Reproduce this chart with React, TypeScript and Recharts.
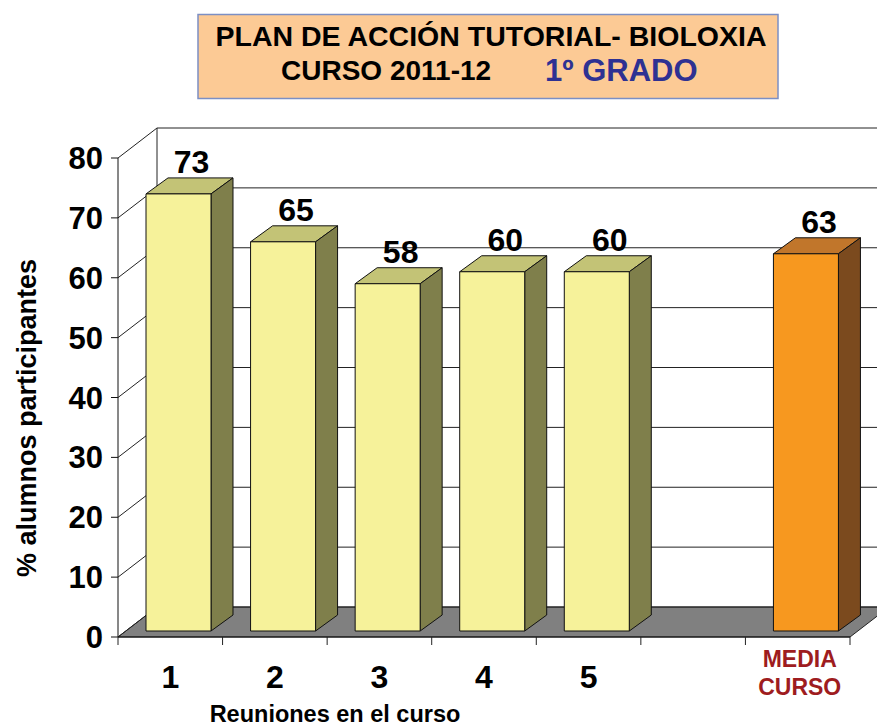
import React from "react";
import { BarChart, Bar, XAxis, YAxis, CartesianGrid, LabelList } from "recharts";

const CATEGORIES = ["1", "2", "3", "4", "5", "", "MEDIA CURSO"];
const PARTICIPATION: (number | null)[] = [73, 65, 58, 60, 60, null, 63];
const Y_TICKS = [0, 10, 20, 30, 40, 50, 60, 70, 80];

const W = 877;
const H = 727;
const PLOT_LEFT = 118;
const PLOT_RIGHT = 850;
const PLOT_TOP = 158;
const PLOT_BOTTOM = 637;
const X_AXIS_H = 30;
const BAND = (PLOT_RIGHT - PLOT_LEFT) / CATEGORIES.length;

// 3d depth of the walls, and of the bars
const WX = 39;
const WY = 30;
const BX = 8;
const BY = 6;
const DX = 22;
const DY = 16;

const FONT = "'Liberation Sans', Arial, sans-serif";

const YELLOW = { front: "#F6F29A", top: "#C3C376", side: "#7F7F4B" };
const ORANGE = { front: "#F7981F", top: "#C1762B", side: "#7B4A1E" };

const data = CATEGORIES.map((name, i) => ({
  name,
  value: PARTICIPATION[i],
  media: name === "MEDIA CURSO",
}));

const wallLine = (p: any) => {
  const { x1, x2, y1 } = p;
  const isFloor = Math.abs(y1 - PLOT_BOTTOM) < 1;
  const isTop = Math.abs(y1 - PLOT_TOP) < 1;
  return (
    <g key={`wall-${y1}`}>
      {isFloor && (
        <polygon
          points={`${x1},${y1} ${x1 + WX},${y1 - WY} ${x2 + WX},${y1 - WY} ${x2},${y1}`}
          fill="#808080"
          stroke="#222"
          strokeWidth={1}
        />
      )}
      <line x1={x1} y1={y1} x2={x1 + WX} y2={y1 - WY} stroke="#222" strokeWidth={1} />
      <line x1={x1 + WX} y1={y1 - WY} x2={x2 + WX} y2={y1 - WY} stroke="#222" strokeWidth={1} />
      {isTop && (
        <line
          x1={x1 + WX}
          y1={y1 - WY}
          x2={x1 + WX}
          y2={PLOT_BOTTOM - WY}
          stroke="#222"
          strokeWidth={1}
        />
      )}
    </g>
  );
};

const Bar3D = (props: any) => {
  const { x, y, width, height, payload } = props;
  if (payload == null || payload.value == null) return null;
  const c = payload.media ? ORANGE : YELLOW;
  const fx = x + BX;
  const fy = y - BY;
  const w = width;
  const h = height;
  return (
    <g stroke="#111" strokeWidth={1} strokeLinejoin="round">
      <polygon
        points={`${fx},${fy} ${fx + DX},${fy - DY} ${fx + w + DX},${fy - DY} ${fx + w},${fy}`}
        fill={c.top}
      />
      <polygon
        points={`${fx + w},${fy} ${fx + w + DX},${fy - DY} ${fx + w + DX},${fy + h - DY} ${fx + w},${fy + h}`}
        fill={c.side}
      />
      <rect x={fx} y={fy} width={w} height={h} fill={c.front} />
    </g>
  );
};

const ValueLabel = (props: any) => {
  const { x, y, width, value, index } = props;
  if (value == null) return null;
  const media = data[index]?.media;
  return (
    <text
      x={x + BX + width / 2 + DX / 2 + 2}
      y={y - BY - DY - 5}
      textAnchor="middle"
      fontFamily={FONT}
      fontWeight="bold"
      fontSize={32}
      fill={media ? "#8E1B1B" : "#000"}
    >
      {value}
    </text>
  );
};

const XTick = (props: any) => {
  const { payload, index } = props;
  const cx = payload.coordinate;
  const isLast = index === CATEGORIES.length - 1;
  const value = String(payload.value);
  return (
    <g>
      <line x1={cx - BAND / 2} y1={PLOT_BOTTOM} x2={cx - BAND / 2} y2={PLOT_BOTTOM + 8} stroke="#222" />
      {isLast && (
        <line x1={cx + BAND / 2} y1={PLOT_BOTTOM} x2={cx + BAND / 2} y2={PLOT_BOTTOM + 8} stroke="#222" />
      )}
      {value === "MEDIA CURSO" ? (
        <text textAnchor="middle" fontFamily={FONT} fontWeight="bold" fontSize={23} fill="#9E1C20">
          <tspan x={cx + 2} y={667}>MEDIA</tspan>
          <tspan x={cx + 2} y={695}>CURSO</tspan>
        </text>
      ) : (
        <text x={cx} y={688} textAnchor="middle" fontFamily={FONT} fontWeight="bold" fontSize={32} fill="#000">
          {value}
        </text>
      )}
    </g>
  );
};

export default function App() {
  return (
    <div style={{ position: "absolute", left: 0, top: 0, width: W, height: H, background: "#fff" }}>
      <BarChart
        width={W}
        height={H}
        data={data}
        margin={{ top: PLOT_TOP, right: W - PLOT_RIGHT, bottom: H - PLOT_BOTTOM - X_AXIS_H, left: 0 }}
        barSize={65}
      >
        <CartesianGrid vertical={false} horizontal={wallLine} />
        <XAxis
          dataKey="name"
          height={X_AXIS_H}
          interval={0}
          tickLine={false}
          axisLine={{ stroke: "#111" }}
          tick={<XTick />}
        />
        <YAxis
          width={PLOT_LEFT}
          domain={[0, 80]}
          ticks={Y_TICKS}
          interval={0}
          tickSize={7}
          tickMargin={8}
          axisLine={{ stroke: "#111" }}
          tickLine={{ stroke: "#111" }}
          tick={{ fontSize: 31, fontWeight: "bold", fill: "#000", fontFamily: FONT }}
        />
        <Bar dataKey="value" shape={<Bar3D />} isAnimationActive={false}>
          <LabelList dataKey="value" content={<ValueLabel />} />
        </Bar>
      </BarChart>
      <svg
        width={W}
        height={H}
        style={{ position: "absolute", left: 0, top: 0, pointerEvents: "none" }}
      >
        <rect x={198} y={14.5} width={580} height={84} fill="#FCCA95" stroke="#7C8FC4" strokeWidth={1.5} />
        <text x={491} y={46} textAnchor="middle" fontFamily={FONT} fontWeight="bold" fontSize={28.5} fill="#000">
          PLAN DE ACCIÓN TUTORIAL- BIOLOXIA
        </text>
        <text x={281} y={80} fontFamily={FONT} fontWeight="bold" fontSize={28} fill="#000">
          CURSO 2011-12
        </text>
        <text x={545} y={81} fontFamily={FONT} fontWeight="bold" fontSize={31} fill="#2E3192">
          1º GRADO
        </text>
        <text
          x={0}
          y={0}
          transform="translate(36 418) rotate(-90)"
          textAnchor="middle"
          fontFamily={FONT}
          fontWeight="bold"
          fontSize={27}
          fill="#000"
        >
          % alumnos participantes
        </text>
        <text x={335} y={722} textAnchor="middle" fontFamily={FONT} fontWeight="bold" fontSize={23.5} fill="#000">
          Reuniones en el curso
        </text>
      </svg>
    </div>
  );
}
